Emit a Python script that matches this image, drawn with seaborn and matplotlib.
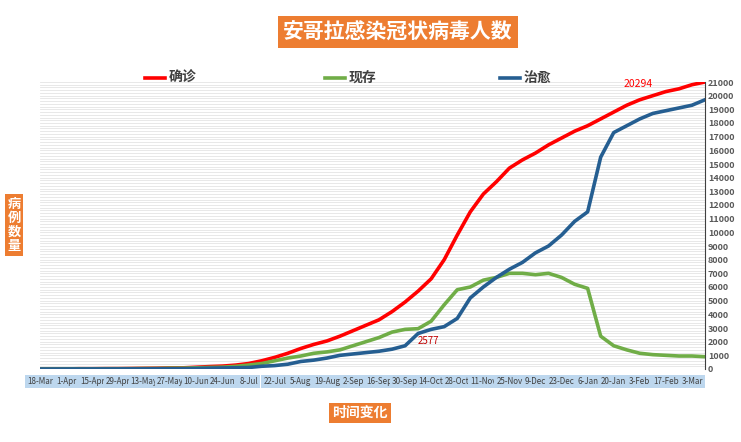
import pandas as pd
import numpy as np
import matplotlib.pyplot as plt
import seaborn as sns

plt.rcParams['font.family'] = ['Noto Sans CJK JP', 'DejaVu Sans']

# weekly readings from 18-Mar-2020
dates = pd.date_range('2020-03-18', periods=52, freq='7D')
confirmed = [0, 5, 8, 19, 19, 25, 27, 36, 48, 58, 81, 86, 130, 176, 212, 284, 400, 600, 850, 1150,
             1500, 1800, 2050, 2400, 2800, 3200, 3600, 4200, 4900, 5700, 6600, 8000, 9800, 11500, 12800, 13700,
             14700, 15300, 15800, 16400, 16900, 17400, 17800, 18300, 18800, 19300, 19700, 20000, 20300, 20500,
             20800, 21000]
active = [0, 5, 6, 15, 13, 19, 20, 25, 37, 41, 63, 65, 89, 115, 135, 194, 290, 400, 600, 800,
          950, 1150, 1250, 1400, 1700, 2000, 2300, 2700, 2900, 2950, 3500, 4700, 5800, 6000, 6500, 6700,
          7000, 7000, 6900, 7000, 6700, 6200, 5900, 2400, 1700, 1400, 1150, 1050, 1000, 950,
          950, 900]
recovered = [0, 0, 2, 4, 6, 6, 7, 11, 11, 17, 18, 21, 41, 61, 77, 90, 110, 200, 250, 350,
             550, 650, 800, 1000, 1100, 1200, 1300, 1450, 1700, 2600, 2900, 3100, 3700, 5200, 6000, 6700,
             7300, 7800, 8500, 9000, 9800, 10800, 11500, 15500, 17300, 17800, 18300, 18700, 18900, 19100,
             19300, 19700]
tick_dates = pd.date_range('2020-03-18', periods=26, freq='14D')

df = pd.DataFrame({'date': dates, '确诊': confirmed, '现存': active, '治愈': recovered})
long = df.melt(id_vars='date', var_name='series', value_name='value')

fig = plt.figure(figsize=(7.41, 4.42), dpi=100)
ax = fig.add_axes([40/741, 1-369/442, 665/741, 287/442])
palette = {'确诊': '#ff0000', '现存': '#70ad47', '治愈': '#255e91'}
sns.lineplot(data=long, x='date', y='value', hue='series', palette=palette, linewidth=2.6, ax=ax, legend=False)

ax.set_ylim(0, 21000)
ax.set_xlim(pd.Timestamp('2020-03-18'), pd.Timestamp('2021-03-10'))
ax.yaxis.tick_right()
ax.set_yticks(range(0, 21001, 1000))
ax.set_yticks(range(0, 21001, 200), minor=True)
ax.tick_params(axis='y', labelsize=6.5, labelcolor='#595959', length=0, which='both', pad=2)
for t in ax.get_yticklabels():
    t.set_fontweight('bold')
ax.grid(axis='y', which='both', color='#e4e4e4', linewidth=0.6)
for s in ['top', 'left', 'bottom']:
    ax.spines[s].set_visible(False)
ax.spines['right'].set_color('#404040')
ax.set_xticks(tick_dates)
ax.set_xticklabels([d.strftime('%-d-%b') for d in tick_dates], fontsize=5.8, color='#404040')
ax.tick_params(axis='x', length=0, pad=6)
for t in ax.get_xticklabels():
    t.set_bbox(dict(boxstyle='square,pad=0.25', fc='#bdd7ee', ec='none'))
ax.set_xlabel('')
ax.set_ylabel('')

ax.text(pd.Timestamp('2021-02-10'), 20500, '20294', color='red', fontsize=7.5, ha='right', va='bottom')
ax.text(pd.Timestamp('2020-10-07'), 2450, '2577', color='#c00000', fontsize=7, va='top')

fig.text(398/741, 1-32/442, '安哥拉感染冠状病毒人数', ha='center', va='center', fontsize=15, fontweight='bold',
         color='white', bbox=dict(boxstyle='square,pad=0.25', fc='#ed7d31', ec='none'))
fig.text(360/741, 1-413/442, '时间变化', ha='center', va='center', fontsize=10, fontweight='bold',
         color='white', bbox=dict(boxstyle='square,pad=0.25', fc='#ed7d31', ec='none'))
fig.text(14/741, 1-225/442, '病\n例\n数\n量', ha='center', va='center', fontsize=9.5, fontweight='bold',
         color='white', linespacing=1.0, bbox=dict(boxstyle='square,pad=0.2', fc='#ed7d31', ec='none'))

for x, name in [(145, '确诊'), (325, '现存'), (500, '治愈')]:
    fig.add_artist(plt.Line2D([x/741, (x+20)/741], [1-78/442]*2, color=palette[name], linewidth=2.6))
    fig.text((x+24)/741, 1-78/442, name, fontsize=10, fontweight='bold', fontstyle='italic',
             color='#404040', va='center')

fig.savefig('out.png', dpi=100)
